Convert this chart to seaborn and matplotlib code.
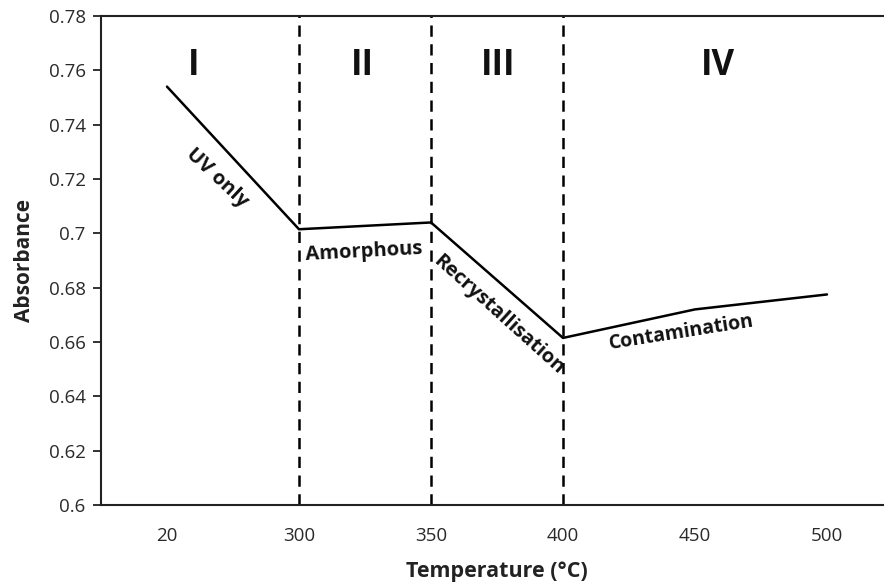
import matplotlib
matplotlib.use("Agg")
import matplotlib.pyplot as plt
import seaborn as sns
import numpy as np
import pandas as pd

temperatures = ["20", "300", "350", "400", "450", "500"]
absorbance = [0.754, 0.7015, 0.704, 0.6615, 0.672, 0.6775]
region_labels = ["I", "II", "III", "IV"]
phase_labels = ["UV only", "Amorphous", "Recrystallisation", "Contamination"]
y_ticks = [0.6, 0.62, 0.64, 0.66, 0.68, 0.7, 0.72, 0.74, 0.76, 0.78]

sns.set_style("white")
plt.rcParams['font.family'] = ['Open Sans', 'DejaVu Sans']

df = pd.DataFrame({"pos": np.arange(len(temperatures)), "abs": absorbance})

fig = plt.figure(figsize=(8.84, 5.84), dpi=100)
W, H = 884, 584
left, right, top, bottom = 101, 893, 16, 505
ax = fig.add_axes([left / W, 1 - bottom / H, (right - left) / W, (bottom - top) / H])

sns.lineplot(data=df, x="pos", y="abs", ax=ax, color="black", linewidth=1.8, sort=False)

ax.set_xlim(-0.5, 5.5)
ax.set_ylim(0.6, 0.78)
ax.set_yticks(y_ticks)
ax.set_yticklabels([f"{v:g}" for v in y_ticks], fontsize=13.5, color="#2a2a2a")
ax.set_xticks(np.arange(len(temperatures)))
ax.set_xticklabels(temperatures, fontsize=13.5, color="#2a2a2a")
ax.tick_params(axis="x", which="major", length=0, pad=16)
ax.set_xticks(np.arange(-0.5, len(temperatures), 1.0), minor=True)
ax.tick_params(axis="x", which="minor", length=6, width=1.3, direction="out", color="#222222")
ax.tick_params(axis="y", length=6, width=1.3, direction="out", color="#222222", pad=5, left=True)

for s in ["left", "bottom", "top"]:
    ax.spines[s].set_visible(True)
    ax.spines[s].set_linewidth(1.5)
    ax.spines[s].set_color("#222222")
ax.spines["right"].set_visible(False)

for xv in [1, 2, 3]:
    ax.axvline(xv, color="black", linestyle=(0, (4.5, 3)), linewidth=1.8)

ax.set_xlabel("Temperature (°C)", fontsize=15.5, fontweight="bold", labelpad=11, color="#222222")
ax.set_ylabel("Absorbance", fontsize=15, fontweight="bold", labelpad=10, color="#222222")

# Region numerals
for xv, lab in zip([0.205, 1.477, 2.507, 4.174], region_labels):
    ax.text(xv, 0.7615, lab, fontsize=25, fontweight="bold", ha="center", va="center", color="#111111")

# Phase labels
ax.text(0.379, 0.7204, phase_labels[0], fontsize=14.5, fontweight="bold", rotation=-43,
        ha="center", va="center", rotation_mode="anchor", color="#111111")
ax.text(1.49, 0.6931, phase_labels[1], fontsize=14.5, fontweight="bold", rotation=3,
        ha="center", va="center", rotation_mode="anchor", color="#111111")
ax.text(2.51, 0.6700, phase_labels[2], fontsize=14.5, fontweight="bold", rotation=-42,
        ha="center", va="center", rotation_mode="anchor", color="#111111")
ax.text(3.90, 0.6633, phase_labels[3], fontsize=14, fontweight="bold", rotation=9,
        ha="center", va="center", rotation_mode="anchor", color="#111111")

fig.savefig("out.png", dpi=100)
